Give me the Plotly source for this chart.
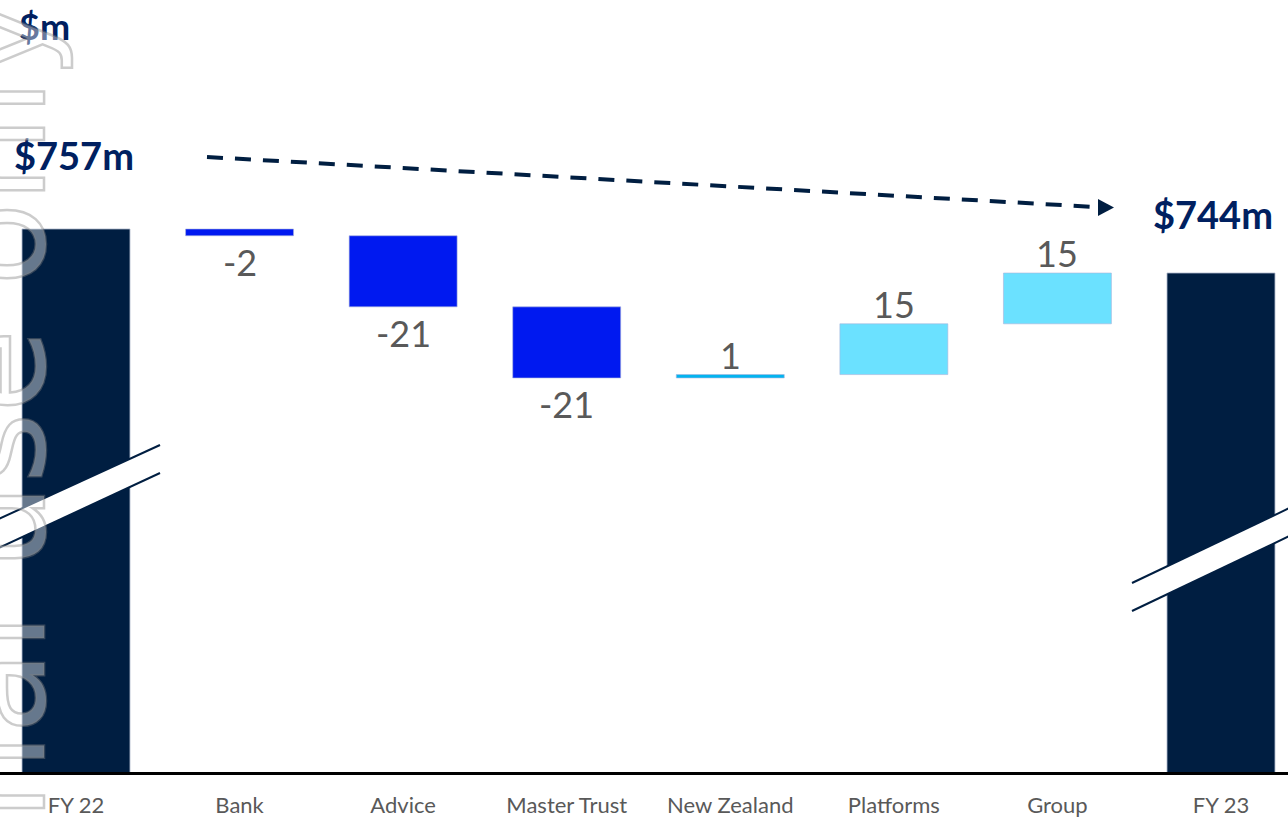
import plotly.graph_objects as go

# ---------------- data ----------------
categories = ["FY 22", "Bank", "Advice", "Master Trust", "New Zealand", "Platforms", "Group", "FY 23"]
opening_total = 757
closing_total = 744
changes = [-2, -21, -21, 1, 15, 15]
change_labels = ["-2", "-21", "-21", "1", "15", "15"]
total_labels = ["$757m", "$744m"]
unit_label = "$m"
watermark_text = "For personal use only"

# ---------------- styles ----------------
NAVY = "#001E41"
TEXT_NAVY = "#002060"
NEG = "#0019F0"
NZ = "#00B4F0"
POS = "#6BE1FF"
GREY = "#595959"
change_colors = [NEG, NEG, NEG, NZ, POS, POS]

W, H = 1288, 818
MB = 46
PH = H - MB

def xp(px):
    return px / W

def yp(py):
    return (PH - py) / PH

x_pos = list(range(len(categories)))

# waterfall geometry from the data
bases, heights = [], []
running = opening_total
for c in changes:
    new = running + c
    bases.append(min(running, new))
    heights.append(abs(c))
    running = new

fig = go.Figure()

# totals
fig.add_trace(go.Bar(
    x=[x_pos[0], x_pos[-1]], y=[opening_total, closing_total], base=[0, 0],
    width=0.66, marker=dict(color=NAVY, line=dict(color="rgba(170,180,200,0.8)", width=1)),
    hoverinfo="skip", showlegend=False))

# changes
fig.add_trace(go.Bar(
    x=x_pos[1:-1], y=heights, base=bases,
    width=0.66, marker=dict(color=change_colors, line=dict(color="rgba(170,180,220,0.6)", width=1)),
    hoverinfo="skip", showlegend=False))

# ---------------- decorations ----------------
shapes = []
# axis break on FY 22 bar
shapes.append(dict(type="path", xref="paper", yref="paper",
                   path=f"M {xp(-10)},{yp(523)} L {xp(160)},{yp(445)} L {xp(160)},{yp(473)} L {xp(-10)},{yp(552)} Z",
                   fillcolor="white", line=dict(width=0), layer="above"))
shapes.append(dict(type="line", xref="paper", yref="paper", x0=xp(-10), y0=yp(523), x1=xp(160), y1=yp(445),
                   line=dict(color=NAVY, width=2), layer="above"))
shapes.append(dict(type="line", xref="paper", yref="paper", x0=xp(-10), y0=yp(552), x1=xp(160), y1=yp(473),
                   line=dict(color=NAVY, width=2), layer="above"))
# axis break on FY 23 bar
shapes.append(dict(type="path", xref="paper", yref="paper",
                   path=f"M {xp(1132)},{yp(583)} L {xp(1300)},{yp(503)} L {xp(1300)},{yp(531)} L {xp(1132)},{yp(611)} Z",
                   fillcolor="white", line=dict(width=0), layer="above"))
shapes.append(dict(type="line", xref="paper", yref="paper", x0=xp(1132), y0=yp(583), x1=xp(1300), y1=yp(503),
                   line=dict(color=NAVY, width=2), layer="above"))
shapes.append(dict(type="line", xref="paper", yref="paper", x0=xp(1132), y0=yp(611), x1=xp(1300), y1=yp(531),
                   line=dict(color=NAVY, width=2), layer="above"))
# dashed trend arrow
shapes.append(dict(type="line", xref="paper", yref="paper", x0=xp(207), y0=yp(157), x1=xp(1096), y1=yp(207),
                   line=dict(color=NAVY, width=4, dash="16px,12px"), layer="above"))
shapes.append(dict(type="path", xref="paper", yref="paper",
                   path=f"M {xp(1098)},{yp(199)} L {xp(1114)},{yp(207.5)} L {xp(1098)},{yp(216)} Z",
                   fillcolor=NAVY, line=dict(width=0), layer="above"))

annotations = [
    dict(text=unit_label, xref="paper", yref="paper", x=xp(45), y=yp(26), xanchor="center", yanchor="middle",
         showarrow=False, font=dict(family="Lato", size=36, color=TEXT_NAVY, weight="bold")),
    dict(text=total_labels[0], xref="x", yref="y", x=x_pos[0], y=opening_total, xanchor="center", yanchor="middle",
         yshift=74, xshift=-2, showarrow=False, font=dict(family="Lato", size=38, color=TEXT_NAVY, weight="bold")),
    dict(text=total_labels[1], xref="x", yref="y", x=x_pos[-1], y=closing_total, xanchor="center", yanchor="middle",
         yshift=59, xshift=-8, showarrow=False, font=dict(family="Lato", size=38, color=TEXT_NAVY, weight="bold")),
    dict(text=watermark_text, xref="paper", yref="paper", x=xp(78), y=yp(-4), xanchor="right", yanchor="top",
         textangle=-90, showarrow=False,
         font=dict(family="DejaVu Sans", size=136, color="rgba(255,255,255,0.4)")),
]

# value labels below decreases, above increases
for xi, c, b, h, lab in zip(x_pos[1:-1], changes, bases, heights, change_labels):
    if c < 0:
        annotations.append(dict(text=lab, xref="x", yref="y", x=xi, y=b, xanchor="center", yanchor="top",
                                yshift=-2, showarrow=False, font=dict(family="Lato", size=36, color=GREY)))
    else:
        annotations.append(dict(text=lab, xref="x", yref="y", x=xi, y=b + h, xanchor="center", yanchor="bottom",
                                yshift=-4, showarrow=False, font=dict(family="Lato", size=36, color=GREY)))

fig.update_layout(
    width=W, height=H,
    margin=dict(l=0, r=0, t=0, b=MB, pad=0),
    paper_bgcolor="white", plot_bgcolor="white",
    barmode="overlay",
    shapes=shapes, annotations=annotations,
    xaxis=dict(range=[-0.4646, 7.4096], tickmode="array", tickvals=x_pos, ticktext=categories,
               showgrid=False, zeroline=False, showline=True, linecolor="#000000", linewidth=3,
               ticks="outside", ticklen=12, tickcolor="rgba(0,0,0,0)",
               tickfont=dict(family="Lato", size=22, color=GREY), automargin=False, fixedrange=True),
    yaxis=dict(range=[596.6, 824.65], visible=False, automargin=False, fixedrange=True),
    showlegend=False,
)

post = """
document.querySelectorAll('.annotation-text').forEach(function(t){
  if (t.textContent.indexOf('personal') >= 0) {
    t.style.stroke = 'rgba(128,128,128,0.4)';
    t.style.strokeWidth = '2.5px';
  }
});
"""

fig.write_html("out.html", config={"displayModeBar": False}, post_script=post)
